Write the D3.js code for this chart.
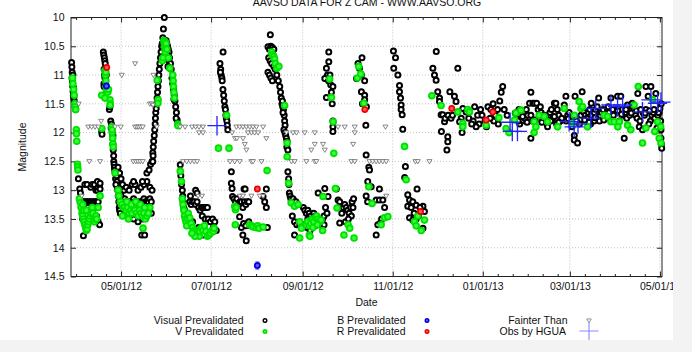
<!DOCTYPE html>
<html>
<head>
<meta charset="utf-8">
<script src="https://cdn.jsdelivr.net/npm/d3@7/dist/d3.min.js"></script>
<style>
  html, body { margin: 0; padding: 0; background: #f3f3f3; }
  svg { display: block; font-family: "Liberation Sans", Arial, sans-serif; }
</style>
</head>
<body>
<div id="chart"></div>
<script>
// observations as [JD - 2456000, magnitude]
const JD0 = 2456000;
const titleText = "AAVSO DATA FOR Z CAM - WWW.AAVSO.ORG";
const yTicks = [10, 10.5, 11, 11.5, 12, 12.5, 13, 13.5, 14, 14.5];
const xDomainJD = [14.6, 414.9];

const visualObs = [
  [15.0,10.78],[15.2,10.86],[15.4,10.95],[15.3,11.05],[15.6,11.12],[15.8,11.2],[16.0,11.28],[16.2,11.35],[16.5,11.4],[16.8,11.45],[17.1,11.5],[17.4,11.55],[17.7,11.6],[16.3,11.22],[15.9,11.0],
  [19.6,12.8],[20.5,12.98],[21.0,13.05],[20.8,13.2],[21.5,13.3],[22.5,13.5],[23.0,13.79],[22,13.2],[23,13.2],[24,13.2],[25,13.2],[26,13.2],[27,13.2],[28,13.2],[29,13.2],[30,13.2],[31,13.2],[32,13.2],[33,13.2],
  [24,12.9],[25.5,12.9],[28,12.95],[29,12.9],[30.5,12.9],[31.5,13.0],[32.5,13.0],[33,12.95],[34,12.9],[32.5,12.85],[34.3,12.88],[34.3,12.98],[26,13.3],[27.5,13.35],[29,13.4],[31,13.3],[32,13.45],[33,13.55],[34,13.6],[30.5,13.55],[28,13.5],
  [36.5,10.6],[36.8,10.65],[37.2,10.7],[37.5,10.75],[37.8,10.8],[37.0,10.9],[37.3,11.0],[37.6,11.05],[36.9,11.15],[37.0,11.2],[38.0,11.1],[38.5,11.0],[35.4,11.98],[35.6,12.03],[40.6,11.6],[41.0,11.55],
  [41.5,11.8],[42,11.85],[42.3,11.9],[42.6,12.0],[42.8,12.1],[43.0,12.2],[43.2,12.3],[43.5,12.4],[43.6,12.5],[43.8,12.55],[44.0,12.6],[44.2,12.65],[44.5,12.7],[44.8,12.8],[41.8,11.92],[43,12.05],
  [45,12.7],[45.5,12.75],[45.8,12.85],[46,12.95],[46.3,13.0],[46.6,13.1],[47,13.2],[47.3,13.3],[47.5,13.35],[48,13.4],[48.2,13.2],[48.5,13.1],[49,13.0],[45.0,12.9],[46.5,12.6],[47.5,12.7],[48.5,12.8],[49.5,12.9],
  [49,13.2],[50,13.2],[51,13.15],[52,13.2],[53,13.2],[54,13.25],[55,13.2],[56,13.2],[57,13.15],[58,13.2],[59,13.2],[60,13.2],[61,13.25],[62,13.2],[63,13.2],[64,13.15],[65,13.2],[66,13.2],[67,13.2],[68,13.15],[69,13.2],
  [50.5,13.0],[52,12.95],[54,13.0],[56,12.9],[58,12.9],[60,13.0],[62,12.95],[64,12.9],[66,12.85],[68,12.95],[69.5,13.0],[57,12.85],[63,12.85],
  [51,13.3],[53,13.35],[55,13.45],[57,13.5],[59,13.3],[61,13.4],[63,13.5],[65,13.35],[67,13.3],[69,13.4],[60,13.55],[62.5,13.78],[64.5,13.78],[66,12.7],[67.5,12.65],[68.5,12.55],[69.5,12.5],
  [70.0,12.35],[70.3,12.25],[70.6,12.15],[71,12.05],[71.3,11.95],[71.6,11.85],[71.8,11.75],[72,11.65],[72.3,11.58],[72.6,11.5],[72.9,11.4],[73.2,11.3],[73.5,11.2],[73.8,11.1],[74.1,11.0],[74.4,10.9],[74.8,10.8],[75.2,10.7],[75.6,10.6],[76,10.5],[76.4,10.45],[77.2,10.2],[77.8,10.0],[76.8,10.35],[70.0,12.5],[70.2,12.4],
  [79,10.4],[79.5,10.45],[80,10.5],[80.5,10.55],[81,10.6],[81.3,10.7],[79.8,10.65],[80.8,10.75],[82,10.8],[82.5,10.9],[80.3,10.85],[78.8,10.65],[78.5,10.5],
  [83,11.05],[83.5,11.15],[84,11.25],[84.5,11.35],[85,11.45],[85.5,11.55],[86,11.65],[86.5,11.78],[85.8,11.75],[84.3,11.42],
  [88.6,12.56],[89,12.75],[89.5,12.9],[90,13.0],[90.3,13.1],[90.5,13.2],[91,13.3],[91.5,13.35],[92,13.4],[93,13.45],[94,13.5],[95,13.2],[96,13.25],[97,13.2],[98,13.2],[99,13.25],[100,13.2],[101,13.3],[102,13.35],[103,13.3],[104,13.3],[105,13.3],[106,13.3],[107,13.3],
  [103.5,13.45],[105.5,13.5],[107.5,13.5],[109,13.55],[110.5,13.5],[112,13.55],[104,13.78],[101,13.65],[97,13.55],[95.5,13.1],[99,13.0],[100,13.05],[111,13.65],[113,13.7],
  [117.6,10.6],[115.5,10.8],[116,10.9],[116.3,11.0],[116.8,11.05],[117,11.1],[115.8,10.95],[117.5,11.25],[118,11.35],[118.4,11.45],[118.8,11.55],[119.2,11.6],[119.5,11.7],[119.8,11.75],[120.2,11.8],[120.5,11.87],[120.8,11.95],
  [123.2,12.68],[123.2,12.88],[123.7,12.97],[124,13.11],[125,13.15],[126,13.2],[127,13.15],[128,13.25],[129,13.2],[130,13.2],[131,13.3],[132,13.2],[133,13.25],[134,13.2],[135,13.2],[128.8,13.46],[130,13.65],[131,13.78],[133.3,13.88],[131.5,13.58],[133,13.62],[135,13.55],[136,13.62],[131.8,12.98],[132.5,12.98],[146.9,12.98],[144.7,13.11],[145.8,13.2],[146.9,13.3],[147.6,13.65],
  [149.6,10.3],[148,10.51],[149,10.55],[150,10.5],[151,10.52],[152,10.55],[150.5,10.6],[151.5,10.65],[148.5,10.7],[149.5,10.75],[150.5,10.8],[152,10.85],[153,10.9],[148,10.95],[149,11.0],[150,11.05],[151,11.1],[154,11.0],[155,11.1],[156,11.2],[156.5,11.3],[157,11.4],[157.5,11.5],[158,11.55],[158.5,11.6],[159,11.7],[159.3,11.8],[159.6,11.87],[158.2,11.65],[157.8,11.45],[158.8,11.95],[159.5,12.0],[160,12.05],[160.5,12.1],[161,12.15],[160.8,12.25],[161.5,12.3],
  [161.5,12.68],[162,12.8],[162.2,12.9],[162.5,13.05],[163,13.1],[163.5,13.15],[164,13.2],[165,13.15],[166,13.2],[167,13.2],[164.5,13.45],[166,13.55],[167.5,13.6],[166,13.78],[169.5,13.6],
  [172,13.3],[173,13.35],[174,13.4],[175,13.35],[176,13.4],[177,13.45],[178,13.5],[179,13.4],[180,13.45],[181,13.5],[182,13.55],[183,13.6],[184,13.55],[185,13.5],[186,13.45],[172.5,13.6],[174.5,13.65],[176.5,13.7],[178,13.6],[182,13.05],[186.5,12.97],[188.7,13.11],[187,13.3],[188,13.4],[186,13.6],[175,13.5],[180,13.62],
  [189.2,10.6],[189.2,10.77],[187.6,10.88],[188.3,11.0],[186.5,11.06],[190.5,11.17],[192,11.2],[187.6,11.39],[192,11.8],[192,11.9],[192,11.98],[190,11.0],[189,11.1],[191,11.3],[191.5,11.5],
  [194.3,12.98],[195.5,13.17],[196.6,13.2],[196.6,13.57],[198,13.4],[199,13.3],[200,13.25],[201,13.3],[202,13.35],[203,13.4],[204,13.3],[205,13.2],[205.6,13.3],[204.5,13.45],[206,13.15],[200.5,13.55],[202.5,13.5],
  [211.7,10.7],[209,10.8],[210,10.88],[211.3,11.0],[208,11.06],[213.5,11.1],[211.3,11.29],[213.5,11.35],[213.5,11.43],[214.3,11.87],[212,11.5],[214.7,11.55],
  [214.5,12.39],[216.3,12.6],[216.8,12.65],[217.9,12.94],[215.6,12.85],[223.5,12.98],[214.5,13.1],[215.5,13.2],[221.3,13.17],[223.5,13.17],[225.8,13.17],[227,13.3],[222.4,13.6],[221.3,13.78],[224.4,13.56],[225,13.5],
  [233,10.58],[234.4,10.7],[233.2,10.88],[236,11.0],[237.1,11.18],[237.1,11.29],[237.8,11.4],[238.2,11.52],[238.2,11.6],[238.9,11.69],[239.3,11.94],[241.1,12.59],[240.6,12.78],
  [242.7,13.08],[243.9,13.17],[246.1,13.2],[248.4,13.26],[249,12.98],[242.7,13.28],[243.9,13.48],[246.1,13.52],[248.4,13.5],[253,13.28],[254,13.37],[253,13.66],[250,13.45],[251,13.3],[245,13.3],[247,13.4],
  [262,10.59],[259.7,10.88],[260.8,11.0],[261.9,11.09],[263,11.29],[264.2,11.4],[264.2,11.46],[265.3,11.69],[266.4,11.69],[267.6,11.81],[265.5,11.98],[269.8,12.07],[269.8,12.16],[269.2,12.3],[268,11.75],[270,11.7],[272,11.75],[273,11.7],[271.2,11.29],[274.3,11.37],[275.4,11.46],[276.6,10.88],
  [280,11.58],[282.2,11.64],[278.9,11.75],[277.8,11.81],[279.5,12.0],[284,11.75],[287,11.8],[290,11.7],[291,11.85],[293,11.7],[295,11.8],[297,11.55],[299,11.6],[300.5,11.5],[302,11.7],[303.5,11.6],[305,11.45],[307,11.2],[306,11.3],[301,11.8],[296,11.9],[289,11.9],[286,11.85],[298.5,11.75],[288,11.55],[292,11.6],[304,11.85],[308,11.6],[310,11.7],
  [315.5,11.66],[316.5,11.75],[318,11.6],[319,11.7],[320,11.8],[321,11.65],[322,11.75],[323,11.6],[324,11.7],[325.2,11.49],[326.1,11.3],[326.1,11.7],[326.1,12.1],[327,11.8],[327.5,11.49],[318.5,11.85],
  [328.5,11.49],[330,11.49],[331,11.6],[332,11.7],[333,11.65],[334,11.75],[335,11.7],[336,11.8],[337,11.85],[337.4,11.9],[338,11.7],[339,11.65],[340,11.6],[341,11.75],[342,11.49],[343,11.49],[344,11.6],[345,11.7],[346,11.8],[347,11.75],[348.7,11.52],[349.8,11.37],[343.5,11.85],[332.5,11.55],
  [350,11.8],[351,11.7],[352,11.65],[353,11.8],[354,11.9],[355.5,12.05],[355.5,12.13],[357.7,12.18],[356,11.37],[360.8,11.29],[360,11.7],[361,11.6],[362,11.65],[363,11.7],[364,11.75],[365,11.65],[366,11.6],[367,11.7],[368.9,11.8],[367,11.49],[369,11.65],[370,11.6],[371,11.55],[359,11.85],[366.5,11.85],
  [372,11.4],[373,11.7],[374,11.65],[375,11.6],[376,11.7],[377,11.75],[378,11.6],[380.3,11.4],[381,11.65],[382,11.7],[383,11.6],[384.8,11.37],[387,11.37],[388,11.6],[389,11.7],[390,11.65],[391,11.75],[389.3,12.1],[392,11.55],[393,11.7],[378.5,11.55],[386,11.8],[391.5,11.52],
  [394.7,11.49],[396,11.6],[397,11.7],[398,11.75],[398.5,11.32],[399.5,11.9],[400,11.8],[401.7,11.95],[402,11.65],[403,11.7],[404,11.6],[404,11.2],[405.5,11.37],[407.4,11.2],[407,11.8],[408,11.7],[409,11.65],[410,11.75],[410.7,11.32],[411.5,11.92],[412,11.7],[413,11.65],[414,11.8],[414.2,11.95],[414.2,12.1],[414.5,12.2],[414.7,12.27],[414.4,11.5],[406,11.85],
  [317.5,11.8],[320.5,11.72],[323.5,11.82],[329,11.78],[333.5,11.82],[336,11.74],[339.5,11.8],[342,11.72],[345,11.82],[351.5,11.76],[357,11.8],[362.5,11.78],[365.5,11.82],[369.5,11.74],[372.5,11.8],[375.5,11.78],
  [379,11.65],[381.5,11.6],[385,11.62],[387.5,11.68],[390.5,11.6],[394,11.66],[397.5,11.62],[400.5,11.6],[403.5,11.66],[406.5,11.62],[409.5,11.6],[412.5,11.65],[413.5,11.58]
];

const vObs = [
  [15.6,11.05],[15.9,11.15],[16.4,11.25],[16.8,11.35],[17.2,11.5],[17.5,11.55],[17.8,11.6],[18.2,11.95],[18.3,12.02],[18.5,12.15],[19.0,12.55],[19.1,12.6],[19.3,12.65],
  [20.3,13.15],[21,13.22],[21.5,13.3],[22,13.4],[22.5,13.45],[23,13.5],[23.5,13.55],[24,13.6],[24.5,13.65],[25,13.7],[25.5,13.68],[26,13.6],[26.5,13.55],[23.2,13.35],[27,13.5],[27.5,13.45],[28,13.4],[28.5,13.35],[29,13.3],[29.5,13.4],[30,13.5],[30.5,13.55],[31,13.5],[31.5,13.45],[32,13.5],[33,13.3],[34.3,13.1],[22.5,13.25],[25,13.35],
  [35.4,11.35],[35.5,11.93],[37.5,10.92],[37.9,11.0],[38.2,11.1],[38.4,11.2],[38.6,11.28],[38.2,10.95],[39.5,11.3],[40.0,11.25],[41.0,11.43],[41.2,11.5],[41.1,11.52],[37.6,11.4],
  [42.3,11.9],[42.5,12.0],[42.8,12.1],[43.0,12.2],[43.2,12.25],[42.5,11.95],[44.5,12.7],[46.5,13.0],[47,13.1],
  [48,13.2],[49,13.25],[50,13.3],[51,13.3],[52,13.35],[53,13.3],[54,13.4],[55,13.35],[56,13.4],[57,13.3],[58,13.35],[59,13.4],[60,13.45],[61,13.35],[62,13.4],[63,13.45],[64,13.4],[65,13.5],[66,13.45],[67,13.4],[68,13.3],[52.5,13.2],[55.5,13.25],[58.5,13.2],[61.5,13.25],[64.5,13.3],[63.4,13.66],[49.5,13.45],[53.5,13.5],
  [73,11.09],[73.6,11.43],[73.4,11.49],[77.5,10.4],[77.8,10.45],[78,10.5],[78.3,10.55],[78.5,10.6],[78.2,10.42],[79,10.45],[79.5,10.55],[76.5,10.75],[77,10.7],[80.5,10.7],[81.5,10.88],[83.5,11.0],[83.8,11.1],[84,11.2],[84.3,11.3],[84.6,11.4],[86.9,11.85],[87.1,11.88],
  [88.6,12.67],[89.4,12.85],[90,13.15],[90.5,13.25],[91,13.35],[91.5,13.45],[92,13.5],[92.5,13.55],[93,13.62],[93.5,13.5],[94,13.4],[95,13.48],[96,13.58],[97,13.65],[98,13.7],[99,13.72],[100,13.75],[101,13.7],[101.5,13.8],[102,13.72],[103,13.65],[104,13.7],[105,13.62],[106,13.72],[107,13.8],[108,13.78],[109,13.75],[110,13.7],[111,13.72],[111.5,13.66],[98.5,13.8],[96.5,13.75],
  [120,11.7],[114.5,12.27],[121.6,12.27],
  [125.5,13.28],[126,13.34],[126.5,13.3],[125.9,13.6],[135.5,13.6],[137,13.62],[138,13.64],[140,13.65],[141,13.62],[142,13.66],[144.7,13.64],[147.4,12.66],
  [150.5,10.6],[151,10.65],[152,10.68],[152.5,10.72],[153,10.8],[154,10.88],[155.4,10.85],[159.3,11.53],[161,12.18],[161,12.42],
  [162,12.88],[163.7,13.22],[166,13.28],[168.4,13.25],[169.5,13.55],[170.7,13.66],[169.5,13.83],
  [174,13.6],[175,13.55],[176,13.62],[177,13.58],[178,13.5],[179,13.55],[180,13.48],[181,13.45],[182,13.5],[183,13.55],[184,13.52],[176,13.78],[176.5,13.8],[185.3,13.11],[185,13.7],[178.5,13.65],[181.5,13.6],
  [189.8,11.07],[191,11.39],[192.2,11.81],[192.6,12.36],
  [193.7,12.97],[194.8,13.31],[199.5,13.78],[202.3,13.6],[203.4,13.66],[206.3,13.83],
  [209.5,10.85],[208.6,11.05],[210.9,10.98],[212.9,11.49],
  [216.3,12.94],[218.5,13.23],[224.7,13.6],[226.9,13.48],[229.2,13.46],
  [240.5,12.24],[241.6,12.82],
  [247.2,13.55],[248.4,13.62],[251.8,13.7],[254,13.52],[249.5,13.45],
  [259,11.36],[265.3,11.53],[276.6,11.64],[283.4,11.6],[284.5,11.64],[280,11.84],[280,11.9],[295.8,11.87],[304.4,11.74],[309.3,11.93],[311.3,12.0],[315,11.78],
  [316,11.66],[319.3,11.61],[328.3,11.81],[329.5,11.9],[328.3,12.0],[331.7,11.7],[335.1,11.72],[337.4,11.81],[344.2,11.9],[348.7,11.58],[354.3,11.84],[355.5,11.7],[358.8,11.46],[360,11.58],[361.1,11.55],[364.5,11.9],
  [375.8,11.7],[378,11.72],[380.3,11.81],[382.5,11.81],[386,11.81],[385,11.9],[391.6,11.87],[393.8,11.95],[396,11.52],[398.8,11.2],[401.7,12.18],[404,11.92],[408.5,11.43],[411.9,11.81],[413,12.1],[414,11.9],[414.2,12.18],[410,11.98]
];

const bObs = [[38.6,11.19],[140.8,14.31]];
const bErr = [0.03, 0.07];

const rObs = [[38.8,10.87],[140.8,12.98],[213.6,11.6],[251.3,13.37],[272.5,11.58],[295.8,11.78],[300.3,11.64]];

const fainterObs = [
  [19.8,11.5],[21.9,13.1],[26.3,11.9],[28.6,11.9],[30.9,11.9],[33.1,11.9],[35,11.8],[27,12.5],[34.3,12.5],[44.4,11.9],[48.3,11.9],[49,11.0],[58,10.8],
  [58,11.9],[59.3,11.9],[60.5,11.9],[61.8,11.9],[63.2,11.9],[56.8,12.5],[58.5,12.5],[60,12.5],[61.5,12.5],[63.2,12.5],[68,11.5],[69.2,11.5],[70.2,11.52],[70.4,11.0],[72.7,11.9],
  [88.5,11.9],[91.9,11.9],[96.6,11.9],[99,11.9],[101.3,11.9],[104,11.9],[101.3,12.0],[104,12.0],[90.5,12.5],[93,12.5],[95.5,12.5],[98,12.5],[100,12.5],[100.7,13.1],[103.3,13.1],
  [122.3,12.5],[123.7,12.0],[125.7,12.1],[127,12.1],
  [126.6,11.9],[128.9,11.9],[131.1,11.9],[133.4,11.9],[135.7,11.9],[137.9,11.9],[140.2,11.9],[144.7,11.9],
  [134.5,12.0],[136.8,12.0],[139,12.0],[141.3,12.0],[160.5,12.0],[165,12.0],[167.3,12.0],[172.9,12.0],[179.7,12.0],[206.8,12.0],
  [131.1,12.1],[146.9,12.1],[132.3,12.2],[179.7,12.2],[185.3,12.2],[205.7,12.2],[133.4,12.3],[177.4,12.3],[186.5,12.3],
  [125.5,12.5],[128.9,12.5],[136.8,12.5],[137.9,12.5],[143.6,12.5],[163.9,12.5],[166.1,12.5],[174,12.5],[179.7,12.5],[180.8,12.5],[204.5,12.5],[206.8,12.5],
  [128.9,13.1],[131.1,13.1],[136.8,13.1],[142.4,13.1],[144.7,13.1],
  [195.5,11.9],[200,11.9],[206.8,11.9],
  [216.8,12.5],[219,12.5],[221.3,12.5],[223.5,12.5],[225.8,12.5],[228.1,12.5],[227.6,11.9],[228.1,13.1],[247.9,12.5],[249.5,12.5],[257.4,12.5]
];

// HGUA observations with error in days and magnitudes
const hguaObs = [
  [113.5,11.88],[312,11.82],[313.5,11.98],[317,11.98],[352,11.81],[355.4,11.9],[358,11.85],[366.7,11.75],[370,11.58],
  [380.3,11.52],[384.8,11.55],[388.2,11.52],[401.7,11.64],[407.4,11.43],[411.9,11.49],[414.2,11.47]
];
const hguaErrDays = 6.5;
const hguaErrMag = 0.17;

const legendRows = [
  { label: "Visual Prevalidated", key: "vis" },
  { label: "V Prevalidated", key: "v" },
  { label: "B Prevalidated", key: "b" },
  { label: "R Prevalidated", key: "r" },
  { label: "Fainter Than", key: "fainter" },
  { label: "Obs by HGUA", key: "hgua" }
];

const W = 692, H = 352, PW = 673, PH = 340;
const plotL = 71, plotR = 662, plotT = 17.5, plotB = 276.5;

const toDate = d => new Date((JD0 + d - 2440587.5) * 864e5);

const svg = d3.select("#chart").append("svg")
  .attr("width", W).attr("height", H);

svg.append("rect").attr("width", W).attr("height", H).attr("fill", "#f3f3f3");
svg.append("defs").append("clipPath").attr("id", "page")
  .append("rect").attr("width", PW).attr("height", PH);

const g = svg.append("g").attr("clip-path", "url(#page)");
g.append("rect").attr("width", PW).attr("height", PH).attr("fill", "#fff");

// scales
const x = d3.scaleUtc()
  .domain(xDomainJD.map(toDate))
  .range([plotL, plotR]);

const y = d3.scaleLinear()
  .domain([10, 14.5])
  .range([plotT, plotB]);

const majors = d3.utcMonth.every(2).range(x.domain()[0], x.domain()[1]);
const minorStep = 10.15 * 864e5;
const minors = [];
majors.forEach((m, i) => {
  const next = i < majors.length - 1 ? majors[i + 1] : x.domain()[1];
  for (let k = 1; k <= 5; k++) {
    const t = new Date(+m + k * minorStep);
    if (t < next - 2 * 864e5 && t <= x.domain()[1]) minors.push(t);
  }
  if (i === 0) {
    for (let k = 1; k <= 5; k++) {
      const t = new Date(+m - k * minorStep);
      if (t >= x.domain()[0]) minors.push(t);
    }
  }
});

// grid
g.append("g").selectAll("line").data(majors).join("line")
  .attr("x1", d => x(d)).attr("x2", d => x(d))
  .attr("y1", plotT).attr("y2", plotB)
  .attr("stroke", "#b0b0b0").attr("stroke-width", 0.8).attr("stroke-dasharray", "1,2");
g.append("g").selectAll("line").data(yTicks).join("line")
  .attr("x1", plotL).attr("x2", plotR)
  .attr("y1", d => y(d)).attr("y2", d => y(d))
  .attr("stroke", "#b0b0b0").attr("stroke-width", 0.8).attr("stroke-dasharray", "1,2");

// axes
function styleAxis(sel) {
  sel.select(".domain").remove();
  sel.selectAll("line").attr("stroke", "#222");
  sel.selectAll("text").attr("fill", "#111").attr("font-size", 10.5)
    .attr("font-family", "'Liberation Sans', Arial, sans-serif");
}

g.append("g").attr("transform", `translate(0,${plotB})`)
  .call(d3.axisBottom(x).tickValues(majors).tickSizeInner(-5).tickSizeOuter(0)
    .tickPadding(6).tickFormat(d3.utcFormat("%m/%d/%y")))
  .call(styleAxis);
g.append("g").attr("transform", `translate(0,${plotB})`)
  .call(d3.axisBottom(x).tickValues(minors).tickSize(-2.5).tickFormat(""))
  .call(styleAxis);
g.append("g").attr("transform", `translate(0,${plotT})`)
  .call(d3.axisTop(x).tickValues(majors).tickSize(-5).tickFormat(""))
  .call(styleAxis);
g.append("g").attr("transform", `translate(0,${plotT})`)
  .call(d3.axisTop(x).tickValues(minors).tickSize(-2.5).tickFormat(""))
  .call(styleAxis);
g.append("g").attr("transform", `translate(${plotL},0)`)
  .call(d3.axisLeft(y).tickValues(yTicks).tickSizeInner(-5).tickSizeOuter(0)
    .tickPadding(6.5).tickFormat(d => String(d)))
  .call(styleAxis);
g.append("g").attr("transform", `translate(${plotR},0)`)
  .call(d3.axisRight(y).tickValues(yTicks).tickSize(-5).tickFormat(""))
  .call(styleAxis);

g.append("rect")
  .attr("x", plotL).attr("y", plotT)
  .attr("width", plotR - plotL).attr("height", plotB - plotT)
  .attr("fill", "none").attr("stroke", "#222").attr("stroke-width", 1);

// labels (the title is cut by the top edge, as in the original render)
g.append("text").attr("x", 367).attr("y", 5.5)
  .attr("text-anchor", "middle").attr("font-size", 10.5).attr("fill", "#111")
  .text(titleText);
g.append("text").attr("x", (plotL + plotR) / 2).attr("y", 306)
  .attr("text-anchor", "middle").attr("font-size", 10.5).attr("fill", "#111")
  .text("Date");
g.append("text").attr("transform", `translate(26,${(plotT + plotB) / 2}) rotate(-90)`)
  .attr("text-anchor", "middle").attr("font-size", 10.5).attr("fill", "#111")
  .text("Magnitude");

// symbol helpers
const styles = {
  vis: { fill: "#fff", stroke: "#000", r: 2.5, sw: 2 },
  v: { fill: "#3cff3c", stroke: "#00e000", r: 2.9, sw: 1.8 },
  b: { fill: "#5a5aff", stroke: "#0000dd", r: 2.6, sw: 1.7 },
  r: { fill: "#ff5a5a", stroke: "#ee0000", r: 2.6, sw: 1.7 }
};

function drawCircles(data, key) {
  const s = styles[key];
  g.append("g").selectAll("circle").data(data).join("circle")
    .attr("cx", d => x(toDate(d[0])))
    .attr("cy", d => y(d[1]))
    .attr("r", s.r)
    .attr("fill", s.fill)
    .attr("stroke", s.stroke)
    .attr("stroke-width", s.sw);
}

const tri = (cx, cy, w) => `M${cx - w / 2},${cy - w * 0.35}L${cx + w / 2},${cy - w * 0.35}L${cx},${cy + w * 0.5}Z`;

drawCircles(visualObs, "vis");
drawCircles(vObs, "v");

// B error bars
g.append("g").selectAll("path").data(bObs).join("path")
  .attr("d", (d, i) => {
    const cx = x(toDate(d[0])), y1 = y(d[1] - bErr[i]), y2 = y(d[1] + bErr[i]);
    return `M${cx},${y1}V${y2}M${cx - 2},${y1}H${cx + 2}M${cx - 2},${y2}H${cx + 2}`;
  })
  .attr("stroke", "#7777ff").attr("stroke-width", 0.8).attr("fill", "none");
drawCircles(bObs, "b");
drawCircles(rObs, "r");

g.append("g").selectAll("path").data(fainterObs).join("path")
  .attr("d", d => tri(x(toDate(d[0])), y(d[1]), 5))
  .attr("fill", "#fff").attr("stroke", "#6a6a6a").attr("stroke-width", 0.8);

g.append("g").selectAll("path").data(hguaObs).join("path")
  .attr("d", d => {
    const cx = x(toDate(d[0])), cy = y(d[1]);
    const x1 = x(toDate(d[0] - hguaErrDays)), x2 = x(toDate(d[0] + hguaErrDays));
    const y1 = y(d[1] - hguaErrMag), y2 = y(d[1] + hguaErrMag);
    return `M${x1},${cy}H${x2}M${cx},${y1}V${y2}`;
  })
  .attr("stroke", "#2222ff").attr("stroke-width", 1.3).attr("fill", "none");

// legend
const legendPos = [
  { tx: 243.5, sx: 265, ty: 323.8, sy: 320.5 },
  { tx: 243.5, sx: 265, ty: 334.8, sy: 331.5 },
  { tx: 405.5, sx: 427, ty: 323.8, sy: 320.5 },
  { tx: 405.5, sx: 427, ty: 334.8, sy: 331.5 },
  { tx: 567.5, sx: 589, ty: 323.8, sy: 320.5 },
  { tx: 566, sx: 589, ty: 334.8, sy: 331 }
];

const legend = g.append("g");
legendRows.forEach((row, i) => {
  const p = legendPos[i];
  legend.append("text").attr("x", p.tx).attr("y", p.ty)
    .attr("text-anchor", "end").attr("font-size", 10.5).attr("fill", "#111")
    .text(row.label);
  if (styles[row.key]) {
    const s = styles[row.key];
    legend.append("circle").attr("cx", p.sx).attr("cy", p.sy).attr("r", 1.8)
      .attr("fill", s.fill).attr("stroke", s.stroke).attr("stroke-width", 1.4);
  } else if (row.key === "fainter") {
    legend.append("path").attr("d", tri(p.sx, p.sy, 4.5))
      .attr("fill", "#fff").attr("stroke", "#777").attr("stroke-width", 0.8);
  } else {
    legend.append("path")
      .attr("d", `M${p.sx - 9.5},${p.sy}H${p.sx + 9.5}M${p.sx},${p.sy - 9}V${p.sy + 9}`)
      .attr("stroke", "#8888ff").attr("stroke-width", 1.1).attr("fill", "none");
  }
});
</script>
</body>
</html>
